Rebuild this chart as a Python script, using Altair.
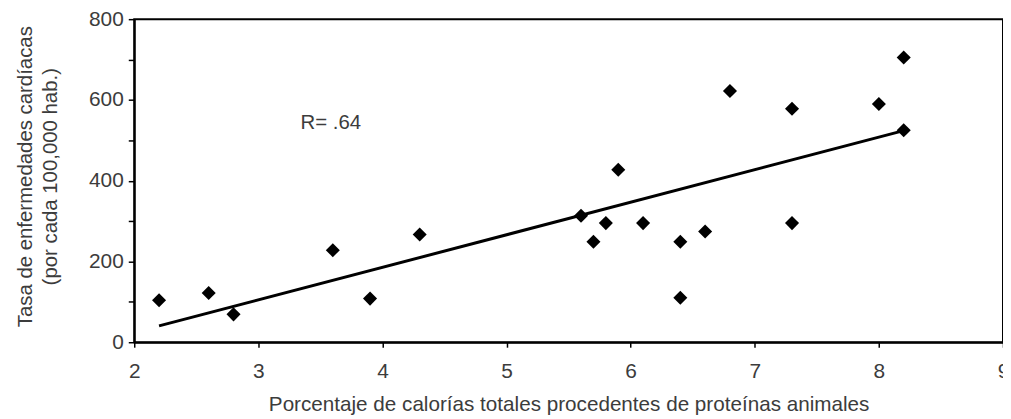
import altair as alt
import pandas as pd

# Data
protein_pct = [2.2, 2.6, 2.8, 3.6, 3.9, 4.3, 5.6, 5.7, 5.8, 5.9,
               6.1, 6.4, 6.4, 6.6, 6.8, 7.3, 7.3, 8.0, 8.2, 8.2]
heart_rate = [104, 122, 69, 228, 108, 267, 313, 249, 295, 427,
              295, 249, 110, 274, 622, 578, 295, 590, 705, 525]

y_ticks = [0, 100, 200, 300, 400, 500, 600, 700, 800]
x_ticks = [2, 3, 4, 5, 6, 7, 8, 9]

r_label = ["R= .64"]
r_label_x = [3.34]
r_label_y = [529]

FONT = "Liberation Sans"
TXT = "#3c3c3c"

df = pd.DataFrame({"x": protein_pct, "y": heart_rate})
ann = pd.DataFrame({"x": r_label_x, "y": r_label_y, "t": r_label})

xscale = alt.Scale(domain=[2, 9], nice=False, zero=False)
yscale = alt.Scale(domain=[0, 800], nice=False)

x_axis = alt.Axis(
    values=x_ticks, format="d",
    title="Porcentaje de calorías totales procedentes de proteínas animales",
    grid=False, domainColor="black", domainWidth=2, tickColor="black", tickWidth=1.5,
    tickSize=5, labelPadding=13, labelFont=FONT, labelFontSize=21, labelColor=TXT,
    labelBaseline="top", labelFlush=False, labelOverlap=False,
    titleFont=FONT, titleFontSize=20.8, titleFontWeight="normal", titleColor=TXT,
    titleBaseline="alphabetic", titleY=69,
)
y_axis = alt.Axis(
    values=y_ticks, labelExpr="datum.value % 200 == 0 ? datum.label : ''",
    title=["Tasa de enfermedades cardíacas", "(por cada 100,000 hab.)"],
    grid=False, domainColor="black", domainWidth=2, tickColor="black", tickWidth=1.5,
    tickSize=6, labelPadding=5, labelFont=FONT, labelFontSize=21, labelColor=TXT,
    labelFlush=False, labelOverlap=False,
    titleFont=FONT, titleFontSize=20.5, titleFontWeight="normal", titleColor=TXT,
    titleLineHeight=25, titleX=-99, titleY=158, titleBaseline="bottom", titleAngle=270,
)

base = alt.Chart(df)

points = base.mark_point(shape="diamond", filled=True, size=200, color="black", opacity=1).encode(
    x=alt.X("x:Q", scale=xscale, axis=x_axis),
    y=alt.Y("y:Q", scale=yscale, axis=y_axis),
)

reg = base.transform_regression("x", "y").mark_line(color="black", strokeWidth=3).encode(
    x=alt.X("x:Q", scale=xscale),
    y=alt.Y("y:Q", scale=yscale),
)

text = alt.Chart(ann).mark_text(
    align="left", baseline="alphabetic", font=FONT, fontSize=20.5, color=TXT
).encode(
    x=alt.X("x:Q", scale=xscale),
    y=alt.Y("y:Q", scale=yscale),
    text="t:N",
)

chart = alt.layer(reg, points, text).properties(
    width=874, height=325,
    autosize=alt.AutoSizeParams(type="none"),
    padding={"left": 127, "top": 10, "right": 0, "bottom": 76},
    background="white",
).configure_view(stroke="black", strokeWidth=2)

chart.save("out.html", embed_options={"renderer": "svg", "actions": False})
